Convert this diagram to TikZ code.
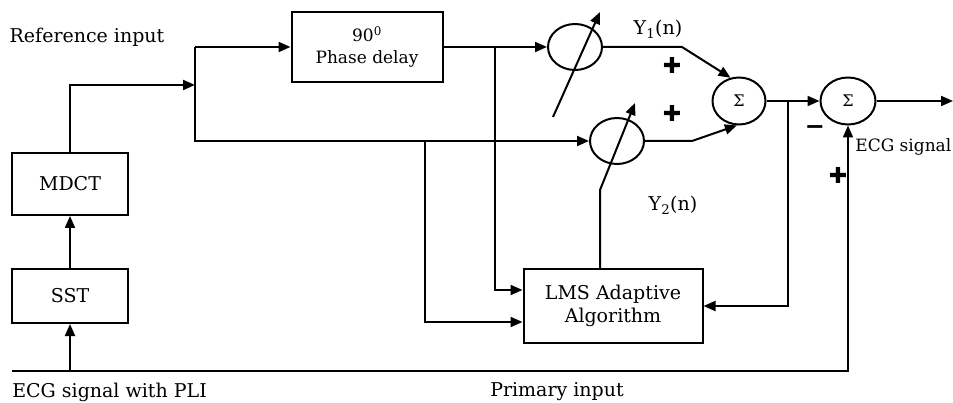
\documentclass[tikz,border=0pt]{standalone}
\usepackage{fontspec}
\setmainfont{DejaVu Serif}
\newfontfamily\signfont{DejaVu Sans}
\usetikzlibrary{arrows.meta,shapes.geometric,calc}

\begin{document}
\begin{tikzpicture}[x=1pt,y=-1pt,line width=2pt,
  every node/.style={font=\fontsize{19}{23}\selectfont},
  >={Triangle[length=12pt,width=10pt]},
  blockbox/.style={draw,rectangle,align=center,inner sep=2pt},
  weight/.style={draw,ellipse,minimum width=54pt,minimum height=46pt,inner sep=0pt},
  adder/.style={draw,ellipse,minimum width=53pt,minimum height=47pt,inner sep=0pt,font=\fontsize{16}{16}\selectfont},
  sign/.style={font=\signfont\bfseries\fontsize{22}{22}\selectfont,inner sep=0pt}]
  \useasboundingbox (0,0) rectangle (953,403);
  % blocks
  \node[blockbox,minimum width=116pt,minimum height=62pt] (mdct) at (70,184) {MDCT};
  \node[blockbox,minimum width=116pt,minimum height=54pt] (sst) at (70,296) {SST};
  \node[blockbox,minimum width=151pt,minimum height=70pt,font=\fontsize{17}{22}\selectfont] (delay) at (367,47) {90\textsuperscript{0}\\Phase delay};
  \node[blockbox,minimum width=179pt,minimum height=73pt] (lms) at (613,306) {LMS Adaptive\\Algorithm};
  \node[weight] (w1) at (575,47) {};
  \node[weight] (w2) at (617,141) {};
  \node[adder] (sum1) at (739,101) {Σ};
  \node[adder,minimum width=55pt] (sum2) at (848,101) {Σ};
  % labels
  \node (reflabel) at (87,37) {Reference input};
  \node[anchor=west] (ecgpli) at (8,392) {ECG signal with PLI};
  \node (primary) at (557,392) {Primary input};
  \node[anchor=west,font=\fontsize{17}{19}\selectfont] (ecgout) at (851,147) {ECG signal};
  \node (y1) at (658,29) {Y\textsubscript{1}(n)};
  \node (y2) at (673,205) {Y\textsubscript{2}(n)};
  \node[sign] (p1) at (672,65) {✚};
  \node[sign] (p2) at (672,113) {✚};
  \node[sign] (p3) at (838,175) {✚};
  \node[sign,font=\signfont\bfseries\fontsize{24}{24}\selectfont] (m1) at (815,130) {−};
  % junctions
  \coordinate (ecgin) at (12,371);
  \coordinate (branch) at (195,85);
  \coordinate (tapd) at (495,47);
  \coordinate (tapr) at (425,141);
  \coordinate (bend1) at (682,47);
  \coordinate (bend2) at (692,141);
  \coordinate (tape) at (788,101);
  \coordinate (w2foot) at (600,190);
  \coordinate (out) at (953,101);
  % connectors
  \draw[->] (ecgin) -| (sum2.south);
  \draw[->] (sst |- ecgin) -- (sst.south);
  \draw[->] (sst.north) -- (mdct.south);
  \draw[->] (mdct.north) |- (branch);
  \draw[->] (delay.west -| branch) -- (delay.west);
  \draw[->] (delay.west -| branch) |- (w2.west);
  \draw[->] (delay.east) -- (w1.west);
  \draw[->] (tapd) |- ([yshift=16pt]lms.west);
  \draw[->] (tapr) |- ([yshift=-16pt]lms.west);
  \draw[->] ($(w1)+(-22,70)$) -- ($(w1)+(25,-35)$);
  \draw[->] (w2foot |- lms.north) -- (w2foot) -- ($(w2)+(18,-38)$);
  \draw[->] (w1.east) -- (bend1) -- (sum1.110);
  \draw[->] (w2.east) -- (bend2) -- (sum1.265);
  \draw[->] (sum1.east) -- (sum2.west);
  \draw[->] (tape) |- (lms.east);
  \draw[->] (sum2.east) -- (out);
\end{tikzpicture}
\end{document}
